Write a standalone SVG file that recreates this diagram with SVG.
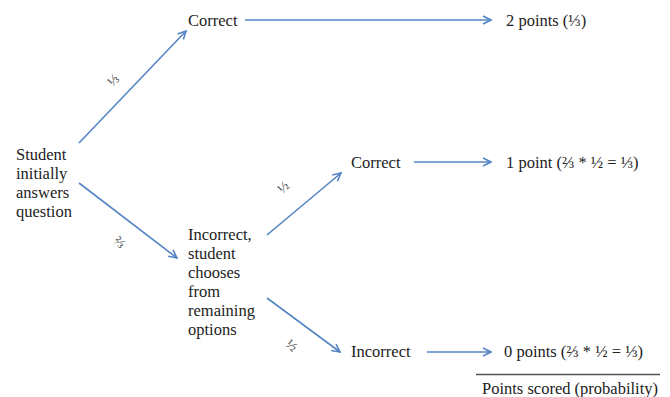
<svg xmlns="http://www.w3.org/2000/svg" width="670" height="397" viewBox="0 0 670 397">
<style>
text{font-family:'Liberation Serif','Tinos','Times New Roman','DejaVu Serif',serif;fill:#222;}
.t{font-size:16.5px;}
.p{font-size:14px;fill:#444;}
.c{stroke:#5585c4;stroke-width:1.6;fill:none;marker-end:url(#ah);}
</style>
<defs>
<marker id="ah" viewBox="0 0 10 10" refX="9" refY="5" markerWidth="10" markerHeight="10" markerUnits="userSpaceOnUse" orient="auto">
<path d="M1,1 L9,5 L1,9" fill="none" stroke="#5585c4" stroke-width="1.6"/>
</marker>
</defs>
<rect width="670" height="397" fill="#fff"/>
<g id="connectors">
<line class="c" x1="79" y1="143" x2="186" y2="31"/>
<line class="c" x1="79" y1="183" x2="177" y2="258"/>
<line class="c" x1="267" y1="235" x2="341" y2="173"/>
<line class="c" x1="267" y1="298" x2="340" y2="352"/>
<line class="c" x1="245" y1="20" x2="491" y2="20"/>
<line class="c" x1="414" y1="162" x2="491" y2="162"/>
<line class="c" x1="427" y1="352" x2="491" y2="352"/>
<text class="p" font-family="Liberation Serif, serif" transform="translate(113,80) rotate(-45)" text-anchor="middle" dy="5">⅓</text>
<text class="p" font-family="Liberation Serif, serif" transform="translate(120,242) rotate(45)" text-anchor="middle" dy="5">⅔</text>
<text class="p" font-family="Liberation Serif, serif" transform="translate(283,187) rotate(-45)" text-anchor="middle" dy="5">½</text>
<text class="p" font-family="Liberation Serif, serif" transform="translate(292,345) rotate(40)" text-anchor="middle" dy="5">½</text>
</g>
<g id="start" font-family="Liberation Serif, serif">
<text class="t" x="16" y="160">Student</text>
<text class="t" x="16" y="179">initially</text>
<text class="t" x="16" y="198">answers</text>
<text class="t" x="16" y="217">question</text>
</g>
<g id="correct1"><text class="t" x="188" y="26">Correct</text></g>
<g id="incorrect1">
<text class="t" x="188" y="240">Incorrect,</text>
<text class="t" x="188" y="259">student</text>
<text class="t" x="188" y="278">chooses</text>
<text class="t" x="188" y="297">from</text>
<text class="t" x="188" y="316">remaining</text>
<text class="t" x="188" y="335">options</text>
</g>
<g id="correct2"><text class="t" x="351" y="168">Correct</text></g>
<g id="incorrect2"><text class="t" x="351" y="357">Incorrect</text></g>
<g id="result2"><text class="t" x="506" y="26">2 points (⅓)</text></g>
<g id="result1"><text class="t" x="506" y="168">1 point (⅔ * ½ = ⅓)</text></g>
<g id="result0"><text class="t" x="504" y="357">0 points (⅔ * ½ = ⅓)</text></g>
<g id="legend">
<line x1="476" y1="374.5" x2="660" y2="374.5" stroke="#555" stroke-width="1.5"/>
<text class="t" x="482" y="394">Points scored (probability)</text>
</g>
</svg>
